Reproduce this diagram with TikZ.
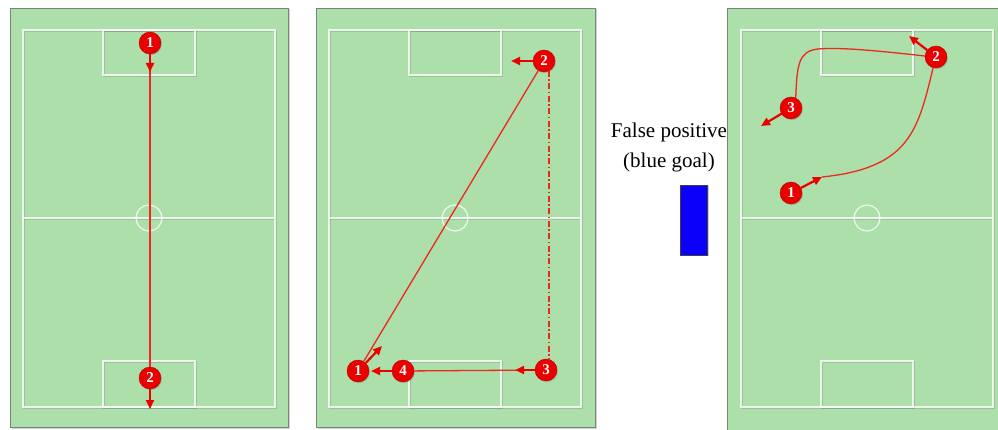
\documentclass[tikz,border=0pt]{standalone}
\usepackage{fontspec}
\setmainfont{Liberation Serif}
\usetikzlibrary{arrows.meta,shadows}
\definecolor{grass}{RGB}{173,223,171}
\definecolor{pitchedge}{RGB}{118,135,116}
\definecolor{mkred}{RGB}{235,0,0}
\definecolor{lnred}{RGB}{238,40,32}
\definecolor{goalblue}{RGB}{12,0,248}
\tikzset{
  field/.style={fill=grass, draw=pitchedge, line width=0.9pt},
  fieldshadow/.style={fill=black, opacity=0.18},
  wline/.style={draw=white, opacity=0.8, line width=1.2pt},
  wshadow/.style={draw=black, opacity=0.12, line width=1.4pt},
  mk/.style={circle, fill=mkred, draw=mkred!75!black, line width=0.4pt,
    minimum size=22pt, inner sep=0pt, text=white,
    font=\bfseries\fontsize{15}{15}\selectfont,
    drop shadow={opacity=0.35, shadow xshift=1pt, shadow yshift=-1.2pt}},
  runline/.style={draw=lnred, line width=1.3pt},
  vline/.style={draw=lnred, line width=1.7pt},
  dashdotline/.style={draw=lnred, line width=1.8pt, dash pattern=on 6pt off 2.5pt on 1.5pt off 2.5pt},
  dirarrow/.style={draw=mkred, line width=2.2pt, -{Triangle[length=9pt,width=8pt]}},
  pics/pitch/.style={code={
    \begin{scope}[shift={(1,1)}]
      \draw[wshadow] (13,22) rectangle (265,399);
      \draw[wshadow] (13,210) -- (265,210);
      \draw[wshadow] (93,22) rectangle (185,67);
      \draw[wshadow] (93,353) rectangle (185,399);
    \end{scope}
    \draw[wline] (13,22) rectangle (265,399);
    \draw[wline] (13,210) -- (265,210);
    \draw[wline] (139,210) circle (13pt);
    \draw[wline] (93,22) rectangle (185,67);
    \draw[wline] (93,353) rectangle (185,399);
  }}
}
\begin{document}
\begin{tikzpicture}[x=1pt,y=-1pt]
\useasboundingbox (0,0) rectangle (998,430);
\clip (0,0) rectangle (998,430);
\fill[white] (0,0) rectangle (998,430);

% fields
\fill[fieldshadow] (11.5,9.5) rectangle (289.5,428.5);
\draw[field] (10,8) rectangle (288,427);
\pic at (10,8) {pitch};

\fill[fieldshadow] (317.5,9.5) rectangle (596.5,428.5);
\draw[field] (316,8) rectangle (595,427);
\pic at (316,8) {pitch};

\draw[field] (727,8) rectangle (1010,440);
\pic at (728,8) {pitch};

% field 1
\node[mk] (a1) at (150,43) {1};
\node[mk] (a2) at (150,378) {2};
\coordinate (a1t) at (150,72);
\coordinate (a2t) at (150,409);
\draw[vline] (a1) -- (a2);
\draw[dirarrow] (a1) -- (a1t);
\draw[dirarrow] (a2) -- (a2t);

% field 2
\node[mk] (b2) at (544,61) {2};
\node[mk] (b3) at (546,370) {3};
\node[mk] (b4) at (403,371) {4};
\node[mk] (b1) at (358,371) {1};
\coordinate (b2t) at (511,61);
\coordinate (b3t) at (515,370);
\coordinate (b4t) at (371,371);
\coordinate (b1t) at (382,346);
\draw[runline] (b2) -- (b1);
\draw[dashdotline] (b2.-62) -- (b2.-62 |- b3.north);
\draw[runline] (b3) -- (b4);
\draw[dirarrow] (b2) -- (b2t);
\draw[dirarrow] (b3) -- (b3t);
\draw[dirarrow] (b4) -- (b4t);
\draw[dirarrow] (b1) -- (b1t);

% field 3
\node[mk] (c2) at (936,57) {2};
\node[mk] (c3) at (791,108) {3};
\node[mk] (c1) at (791,193) {1};
\coordinate (c2t) at (909,36);
\coordinate (c3t) at (761,126);
\coordinate (c1t) at (822,177);
\draw[runline] (c2.175) .. controls (880,51) and (840,47) .. (818,49)
  .. controls (798,51) and (797,66) .. (c3.65);
\draw[runline] (c2.-105) .. controls (918,130) and (910,168) .. (c1t);
\draw[dirarrow] (c2) -- (c2t);
\draw[dirarrow] (c3) -- (c3t);
\draw[dirarrow] (c1) -- (c1t);

% label and goal
\node[font=\fontsize{21}{30}\selectfont, align=center, inner sep=0pt] (fp) at (669,147) {False positive\\(blue goal)};
\node[draw=black!75, line width=0.6pt, fill=goalblue, minimum width=27pt, minimum height=70pt, inner sep=0pt,
  drop shadow={opacity=0.4, shadow xshift=1.5pt, shadow yshift=-1.5pt}] (goal) at (693.5,220) {};
\end{tikzpicture}
\end{document}
